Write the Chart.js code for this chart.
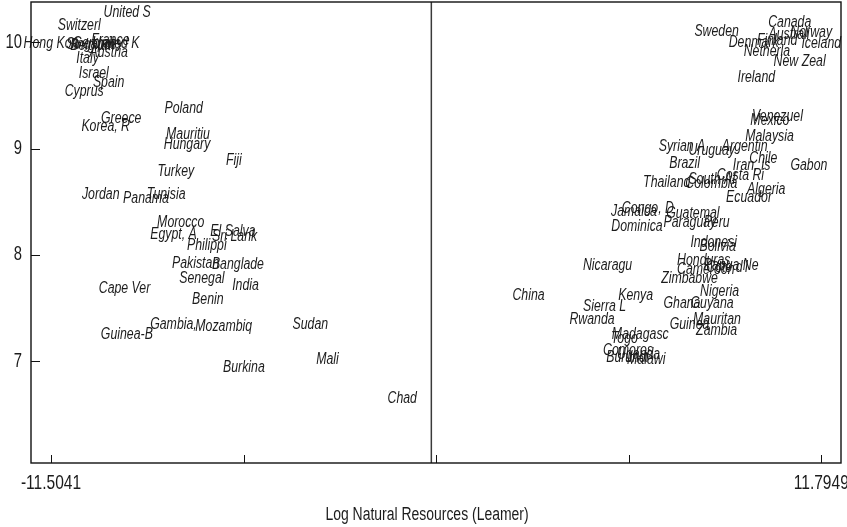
<!DOCTYPE html>
<html>
<head>
<meta charset="utf-8">
<script src="https://cdn.jsdelivr.net/npm/chart.js@4.4.1/dist/chart.umd.min.js"></script>
<style>
  html, body { margin: 0; padding: 0; background: #fff; }
  #wrap { width: 847px; height: 527px; }
</style>
</head>
<body>
<div id="wrap"><canvas id="chart" width="847" height="527"></canvas></div>
<script>
// country name (first 8 chars), log natural resources, log income
const countries = [
  'United S', 'Switzerl', 'Hong Kon', 'Singapor', 'Germany', 'Belgium', 'France', 'United K',
  'Austria', 'Italy', 'Israel', 'Spain', 'Cyprus', 'Poland', 'Greece', 'Korea, R',
  'Mauritiu', 'Hungary', 'Fiji', 'Turkey', 'Jordan', 'Panama', 'Tunisia', 'Morocco',
  'Egypt, A', 'El Salva', 'Sri Lank', 'Philippi', 'Pakistan', 'Banglade', 'Senegal', 'India',
  'Cape Ver', 'Benin', 'Gambia,', 'Mozambiq', 'Sudan', 'Guinea-B', 'Burkina', 'Mali',
  'Chad',
  'Canada', 'Sweden', 'Norway', 'Australi', 'Denmark', 'Finland', 'Iceland', 'Netherla',
  'New Zeal', 'Ireland', 'Venezuel', 'Mexico', 'Malaysia', 'Syrian A', 'Argentin', 'Uruguay',
  'Brazil', 'Chile', 'Iran, Is', 'Gabon', 'Costa Ri', 'Thailand', 'Colombia', 'South Af',
  'Algeria', 'Ecuador', 'Jamaica', 'Congo, D', 'Guatemal', 'Dominica', 'Paraguay', 'Peru',
  'Indonesi', 'Bolivia', 'Nicaragu', 'Honduras', 'Cameroon', "Cote d'I", 'Papua Ne', 'Zimbabwe',
  'Kenya', 'Nigeria', 'China', 'Ghana', 'Guyana', 'Sierra L', 'Rwanda', 'Guinea',
  'Mauritan', 'Zambia', 'Madagasc', 'Togo', 'Comoros', 'Uganda', 'Burundi', 'Malawi'
];
const resources = [
  -9.20, -10.65, -11.5041, -10.30, -10.09, -10.25, -9.71, -9.54,
  -9.76, -10.40, -10.21, -9.76, -10.50, -7.49, -9.38, -9.85,
  -7.36, -7.39, -5.97, -7.73, -10.00, -8.63, -8.02, -7.58,
  -7.80, -6.00, -5.95, -6.79, -7.13, -5.85, -6.94, -5.62,
  -9.28, -6.76, -7.80, -6.28, -3.66, -9.21, -5.67, -3.14,
  -0.88,
  10.84, 8.63, 11.49, 10.82, 9.75, 10.46, 11.7949, 10.15,
  11.14, 9.83, 10.47, 10.24, 10.23, 7.58, 9.48, 8.48,
  7.66, 10.04, 9.69, 11.42, 9.35, 7.12, 8.47, 8.49,
  10.13, 9.61, 6.13, 6.55, 7.91, 6.22, 7.82, 8.63,
  8.54, 8.66, 5.33, 8.24, 8.30, 8.95, 9.07, 7.81,
  6.18, 8.72, 2.94, 7.58, 8.49, 5.24, 4.86, 7.81,
  8.64, 8.63, 6.32, 5.84, 5.95, 6.27, 5.93, 6.50
];
const income = [
  10.28, 10.16, 9.99, 9.98, 9.99, 9.97, 10.02, 9.99,
  9.90, 9.85, 9.71, 9.62, 9.54, 9.38, 9.28, 9.21,
  9.13, 9.04, 8.89, 8.78, 8.57, 8.53, 8.57, 8.30,
  8.19, 8.22, 8.17, 8.09, 7.92, 7.91, 7.78, 7.71,
  7.68, 7.58, 7.34, 7.32, 7.34, 7.25, 6.94, 7.01,
  6.65,
  10.19, 10.10, 10.09, 10.07, 10.00, 10.02, 9.99, 9.91,
  9.82, 9.67, 9.30, 9.26, 9.11, 9.02, 9.02, 8.98,
  8.86, 8.91, 8.84, 8.84, 8.75, 8.68, 8.67, 8.71,
  8.61, 8.54, 8.41, 8.44, 8.39, 8.27, 8.30, 8.30,
  8.12, 8.08, 7.90, 7.95, 7.86, 7.88, 7.90, 7.78,
  7.62, 7.65, 7.62, 7.54, 7.54, 7.51, 7.39, 7.34,
  7.39, 7.29, 7.25, 7.21, 7.10, 7.06, 7.03, 7.01
];
const xTicks = [-11.5041, -5.6794, 0.1454, 5.9702, 11.7949];
const xTickLabels = ['-11.5041', '', '', '', '11.7949'];
const yTicks = [7, 8, 9, 10];
const yTickLabels = ['7', '8', '9', '10'];
const xRange = [-12.109, 12.391];
const yRange = [6.04, 10.38];
const zeroLine = 0;
const xTitle = 'Log Natural Resources (Leamer)';

const FAMILY = '"Liberation Sans", Arial, sans-serif';
const INK = '#1c1c1c';

// Liberation Sans squeezed sideways stands in for a condensed face
function narrowText(ctx, text, x, y, font, squeeze, align) {
  ctx.save();
  ctx.translate(x, y);
  ctx.scale(squeeze, 1);
  ctx.font = font;
  ctx.fillStyle = INK;
  ctx.textAlign = align;
  ctx.textBaseline = 'middle';
  ctx.fillText(text, 0, 0);
  ctx.restore();
}

// names are drawn centred on each point instead of markers
const countryLabels = {
  id: 'countryLabels',
  afterDatasetsDraw(chart) {
    const meta = chart.getDatasetMeta(1);
    meta.data.forEach((pt, i) =>
      narrowText(chart.ctx, countries[i], pt.x, pt.y, 'italic 16px ' + FAMILY, 0.77, 'center'));
  }
};

// box round the plot, inward tick marks, tick labels and axis title
const frameTicks = {
  id: 'frameTicks',
  afterDraw(chart) {
    const { ctx, chartArea: a, scales: { x, y } } = chart;
    ctx.save();
    ctx.strokeStyle = '#111';
    ctx.lineWidth = 1.4;
    ctx.strokeRect(a.left, a.top, a.right - a.left, a.bottom - a.top);
    ctx.lineWidth = 1;
    ctx.beginPath();
    xTicks.forEach(v => {
      const px = Math.round(x.getPixelForValue(v)) + 0.5;
      ctx.moveTo(px, a.bottom);
      ctx.lineTo(px, a.bottom - 8);
    });
    yTicks.forEach(v => {
      const py = Math.round(y.getPixelForValue(v)) + 0.5;
      ctx.moveTo(a.left, py);
      ctx.lineTo(a.left + 9, py);
    });
    ctx.stroke();
    ctx.restore();

    xTicks.forEach((v, i) => {
      if (xTickLabels[i]) {
        narrowText(ctx, xTickLabels[i], x.getPixelForValue(v), a.bottom + 20, '21px ' + FAMILY, 0.74, 'center');
      }
    });
    yTicks.forEach((v, i) =>
      narrowText(ctx, yTickLabels[i], a.left - 9, y.getPixelForValue(v), '20px ' + FAMILY, 0.74, 'right'));
    narrowText(ctx, xTitle, 427, 515, '18px ' + FAMILY, 0.775, 'center');
  }
};

new Chart(document.getElementById('chart'), {
  data: {
    datasets: [
      {
        type: 'line',
        data: [{ x: zeroLine, y: yRange[0] }, { x: zeroLine, y: yRange[1] }],
        borderColor: '#3a3a3a',
        borderWidth: 1.5,
        pointRadius: 0
      },
      {
        type: 'scatter',
        data: countries.map((c, i) => ({ x: resources[i], y: income[i] })),
        pointRadius: 0,
        pointHoverRadius: 0
      }
    ]
  },
  options: {
    responsive: false,
    animation: false,
    events: [],
    layout: { padding: { left: 0, right: 6, top: 2, bottom: 0 } },
    plugins: { legend: { display: false }, tooltip: { enabled: false } },
    scales: {
      x: {
        type: 'linear',
        min: xRange[0],
        max: xRange[1],
        grid: { display: false },
        border: { display: false },
        afterBuildTicks: s => { s.ticks = xTicks.map(v => ({ value: v })); },
        afterFit: s => { s.height = 64; s.paddingLeft = 0; s.paddingRight = 0; },
        ticks: { display: false }
      },
      y: {
        type: 'linear',
        min: yRange[0],
        max: yRange[1],
        grid: { display: false },
        border: { display: false },
        afterBuildTicks: s => { s.ticks = yTicks.map(v => ({ value: v })); },
        afterFit: s => { s.width = 31; s.paddingTop = 0; s.paddingBottom = 0; },
        ticks: { display: false }
      }
    }
  },
  plugins: [countryLabels, frameTicks]
});
</script>
</body>
</html>
